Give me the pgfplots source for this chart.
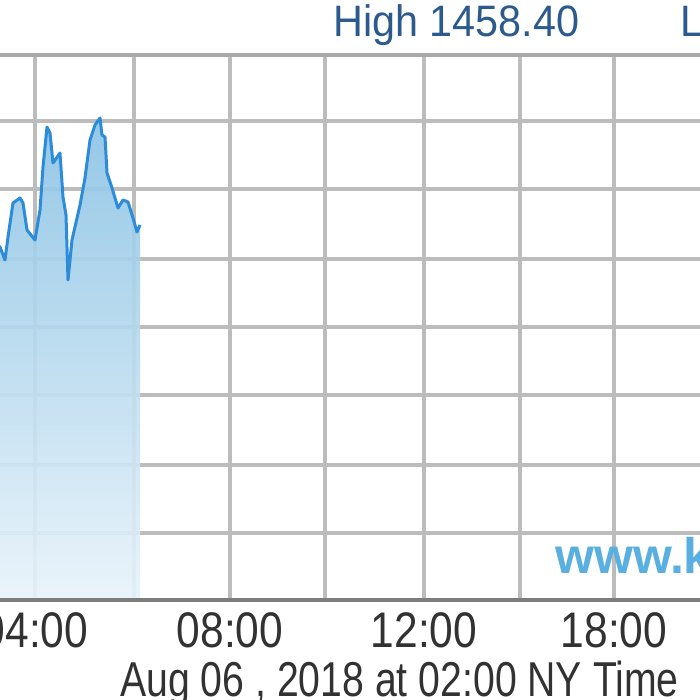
\documentclass[border=0pt]{standalone}
\usepackage{fontspec}
\setmainfont{Liberation Sans}
\usepackage{pgfplots}
\pgfplotsset{compat=1.18}
\definecolor{gridc}{RGB}{188,188,188}
\definecolor{axisc}{RGB}{125,125,125}
\definecolor{linec}{RGB}{45,140,215}
\definecolor{areatop}{RGB}{140,195,228}
\definecolor{areabot}{RGB}{232,243,250}
\definecolor{hicol}{RGB}{45,90,140}
\definecolor{wmcol}{RGB}{90,175,225}
\definecolor{txtc}{RGB}{50,50,50}
\begin{document}
\begin{tikzpicture}
\useasboundingbox (0,0) rectangle (700pt,700pt);
\clip (0,0) rectangle (700pt,700pt);
\begin{axis}[
  at={(-100pt,100pt)}, anchor=south west,
  scale only axis, width=900pt, height=545pt,
  xmin=-100, xmax=800, ymin=100, ymax=645,
  axis line style={draw=none},
  xtick={35,134,230,325,424,520,614,711},
  ytick={167,235,305,373,441,511,579},
  xticklabels={}, yticklabels={},
  major tick length=0pt,
  grid=major,
  major grid style={gridc, line width=3.6pt},
  clip=true,
]
\addplot[draw=none, top color=areatop, bottom color=areabot, fill opacity=0.92] coordinates {
(-10,460)(0,453)(5,440)(8,463)(13,497)(20,502)(23,497)(27,470)(35,460)(40,490)(43,533)(47,573)(50,567)(53,537)(60,547)(63,503)(66,485)(68,420)(72,460)(80,495)(85,522)(90,560)(95,575)(100,582)(102,565)(105,563)(107,527)(112,512)(118,492)(123,500)(128,498)(133,482)(137,468)(140,475)
} \closedcycle;
\addplot[linec, line width=3pt, line join=round] coordinates {
(-10,460)(0,453)(5,440)(8,463)(13,497)(20,502)(23,497)(27,470)(35,460)(40,490)(43,533)(47,573)(50,567)(53,537)(60,547)(63,503)(66,485)(68,420)(72,460)(80,495)(85,522)(90,560)(95,575)(100,582)(102,565)(105,563)(107,527)(112,512)(118,492)(123,500)(128,498)(133,482)(137,468)(140,475)
};
\end{axis}
\draw[gridc!90!black, line width=3.6pt] (0,645pt) -- (700pt,645pt);
\draw[axisc, line width=3.6pt] (0,100pt) -- (700pt,100pt);
% x labels
\foreach \xx/\lab in {35/04:00,230/08:00,424/12:00,614/18:00}{
  \node[anchor=base, inner sep=0pt, text=txtc, font=\fontsize{50}{50}\selectfont] at (\xx pt,52pt) {\scalebox{0.85}[1]{\lab}};
}
\node[anchor=base west, inner sep=0pt, text=txtc, font=\fontsize{49}{49}\selectfont] at (120pt,3pt) {\scalebox{0.80}[1]{Aug 06 , 2018 at 02:00 NY Time}};
% header
\node[anchor=base west, inner sep=0pt, text=hicol, font=\fontsize{44}{44}\selectfont] at (333pt,663pt) {\scalebox{0.94}[1]{High 1458.40}};
\node[anchor=base west, inner sep=0pt, text=hicol, font=\fontsize{44}{44}\selectfont] at (680pt,663pt) {\scalebox{0.94}[1]{Low 1449.20}};
% watermark
\node[anchor=base west, inner sep=0pt, text=wmcol, font=\fontsize{50}{50}\selectfont\bfseries] at (555pt,126pt) {www.kitco.com};
\end{tikzpicture}
\end{document}
